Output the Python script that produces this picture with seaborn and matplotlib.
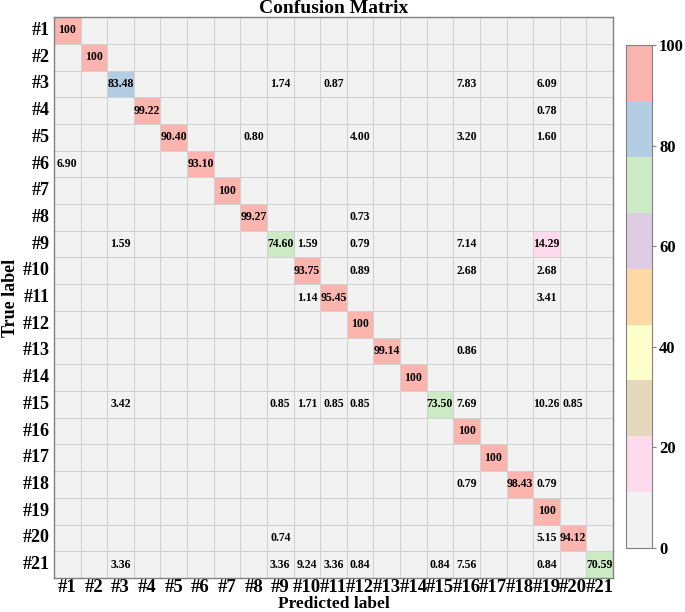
import numpy as np
import pandas as pd
import matplotlib
matplotlib.use("Agg")
import matplotlib.pyplot as plt
import seaborn as sns

# class names
labels = ["#%d" % i for i in range(1, 22)]

# non-zero entries of the confusion matrix (percent), row = true, col = predicted (1-based)
row_idx = [1, 2,
           3, 3, 3, 3, 3,
           4, 4,
           5, 5, 5, 5, 5,
           6, 6,
           7,
           8, 8,
           9, 9, 9, 9, 9, 9,
           10, 10, 10, 10,
           11, 11, 11,
           12,
           13, 13,
           14,
           15, 15, 15, 15, 15, 15, 15, 15, 15,
           16,
           17,
           18, 18, 18,
           19,
           20, 20, 20,
           21, 21, 21, 21, 21, 21, 21, 21, 21]
col_idx = [1, 2,
           3, 9, 11, 16, 19,
           4, 19,
           5, 8, 12, 16, 19,
           1, 6,
           7,
           8, 12,
           3, 9, 10, 12, 16, 19,
           10, 12, 16, 19,
           10, 11, 19,
           12,
           13, 16,
           14,
           3, 9, 10, 11, 12, 15, 16, 19, 20,
           16,
           17,
           16, 18, 19,
           19,
           9, 19, 20,
           3, 9, 10, 11, 12, 15, 16, 19, 21]
values = [100, 100,
          83.48, 1.74, 0.87, 7.83, 6.09,
          99.22, 0.78,
          90.40, 0.80, 4.00, 3.20, 1.60,
          6.90, 93.10,
          100,
          99.27, 0.73,
          1.59, 74.60, 1.59, 0.79, 7.14, 14.29,
          93.75, 0.89, 2.68, 2.68,
          1.14, 95.45, 3.41,
          100,
          99.14, 0.86,
          100,
          3.42, 0.85, 1.71, 0.85, 0.85, 73.50, 7.69, 10.26, 0.85,
          100,
          100,
          0.79, 98.43, 0.79,
          100,
          0.74, 5.15, 94.12,
          3.36, 3.36, 9.24, 3.36, 0.84, 0.84, 7.56, 0.84, 70.59]

cm = np.zeros((21, 21))
for r, c, v in zip(row_idx, col_idx, values):
    cm[r - 1, c - 1] = v
df = pd.DataFrame(cm, index=labels, columns=labels)

# annotation text: blank for zeros, "100" for full rows
annot = np.where(cm == 0, "",
                 np.where(cm == 100, "100",
                          np.vectorize(lambda x: "%.2f" % x)(cm)))

plt.rcParams['font.family'] = ['Liberation Serif', 'DejaVu Serif']
plt.rcParams['font.weight'] = 'bold'

fig = plt.figure(figsize=(6.85, 6.12), dpi=100)
ax = fig.add_axes([0.0788, 0.0556, 0.8162, 0.9164])
cax = fig.add_axes([0.914, 0.1046, 0.038, 0.8214])

cmap = sns.color_palette("Pastel1_r", 9)
sns.heatmap(df, ax=ax, cbar_ax=cax, cmap=cmap, vmin=0, vmax=100,
            annot=annot, fmt="", annot_kws={"size": 8.5, "weight": "bold", "color": "black"},
            linewidths=0.7, linecolor="#d0d0d0",
            cbar_kws={"ticks": [0, 20, 40, 60, 80, 100]})

for s in ax.spines.values():
    s.set_visible(True)
    s.set_color("#808080")
    s.set_linewidth(1.0)

ax.set_title("Confusion Matrix", fontsize=14, fontweight="bold", pad=2)
ax.set_xlabel("Predicted label", fontsize=12.5, fontweight="bold", labelpad=0)
ax.set_ylabel("True label", fontsize=13, fontweight="bold", labelpad=3)
ax.tick_params(axis="x", length=0, labelsize=13.5, pad=1)
ax.tick_params(axis="y", length=0, labelsize=13, pad=3)
plt.setp(ax.get_xticklabels(), rotation=0, fontweight="bold")
plt.setp(ax.get_yticklabels(), rotation=0, fontweight="bold")

cbar = ax.collections[0].colorbar
cax.tick_params(labelsize=12, length=3, pad=2, color="#808080")
plt.setp(cax.get_yticklabels(), fontweight="bold")
cbar.outline.set_edgecolor("#808080")
cbar.outline.set_linewidth(0.8)

plt.savefig("out.png", dpi=100)
plt.close()
